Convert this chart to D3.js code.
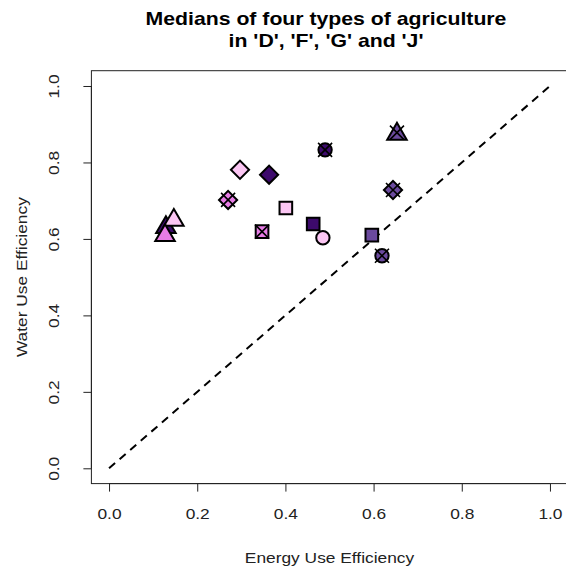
<!DOCTYPE html>
<html>
<head>
<meta charset="utf-8">
<script src="https://cdn.jsdelivr.net/npm/d3@7"></script>
<style>
  body { margin: 0; background: #fff; }
  svg { display: block; font-family: "Liberation Sans", Arial, sans-serif; }
</style>
</head>
<body>
<svg id="svg" width="566" height="572"></svg>
<script>
// medians: one point per agriculture type (shape) and region (colour)
const shapes = ['triangle', 'triangle', 'triangle', 'triangle',
                'diamond', 'diamond', 'diamond', 'diamond',
                'square', 'square', 'square', 'square',
                'circle', 'circle', 'circle'];
const groups = ['dark', 'light', 'pink', 'medium',
                'light', 'dark', 'pink', 'medium',
                'light', 'pink', 'dark', 'medium',
                'light', 'dark', 'medium'];
const energy = [0.129, 0.147, 0.127, 0.653,
                0.297, 0.363, 0.270, 0.644,
                0.401, 0.347, 0.463, 0.596,
                0.485, 0.490, 0.619];
const water = [0.634, 0.653, 0.613, 0.878,
               0.781, 0.768, 0.702, 0.728,
               0.681, 0.619, 0.639, 0.610,
               0.603, 0.833, 0.556];
const crossed = [false, false, false, true,
                 false, false, true, true,
                 false, true, false, false,
                 false, true, true];
const ticks = [0, 0.2, 0.4, 0.6, 0.8, 1.0];
const palette = {light: '#fbc6f3', pink: '#e87de6', medium: '#6b4a9e', dark: '#3d0a6c'};

const svg = d3.select('#svg');
const wide = 'scale(1.24,1)';   // the reference font is rendered wider than Arial

const x = d3.scaleLinear().domain([-0.04, 1.04]).range([91.4, 567.6]);
const y = d3.scaleLinear().domain([-0.04, 1.04]).range([483.6, 70.7]);

// plot box
svg.append('rect')
    .attr('x', x(-0.04))
    .attr('y', y(1.04))
    .attr('width', x(1.04) - x(-0.04))
    .attr('height', y(-0.04) - y(1.04))
    .style('fill', 'none')
    .style('stroke', '#222')
    .style('stroke-width', 1);

// axes
const xAxis = svg.append('g')
    .attr('transform', `translate(0,${y(-0.04)})`)
    .call(d3.axisBottom(x).tickValues(ticks).tickFormat(d3.format('.1f')).tickSize(8).tickPadding(17));
const yAxis = svg.append('g')
    .attr('transform', `translate(${x(-0.04)},0)`)
    .call(d3.axisLeft(y).tickValues(ticks).tickFormat(d3.format('.1f')).tickSize(8).tickPadding(14));
[xAxis, yAxis].forEach(a => {
    a.select('.domain').remove();
    a.selectAll('line').style('stroke', '#222');
    a.selectAll('text').style('font-size', '14px').style('fill', '#222')
        .style('font-family', '"Liberation Sans", Arial, sans-serif');
});
xAxis.append('line').attr('x1', x(0)).attr('x2', x(1)).style('stroke', '#222');
yAxis.append('line').attr('y1', y(0)).attr('y2', y(1)).style('stroke', '#222');
xAxis.selectAll('.tick text').attr('transform', wide);
yAxis.selectAll('.tick text')
    .attr('x', 0).attr('dy', null)
    .attr('transform', 'translate(-36,0) rotate(-90) ' + wide)
    .attr('text-anchor', 'middle')
    .attr('dominant-baseline', 'middle');

// diagonal
svg.append('line')
    .attr('x1', x(0)).attr('y1', y(0))
    .attr('x2', x(1)).attr('y2', y(1))
    .style('stroke', '#000')
    .style('stroke-width', 2)
    .style('stroke-dasharray', '8,6');

// symbols
const symType = {circle: d3.symbolCircle, square: d3.symbolSquare,
                 diamond: d3.symbolSquare, triangle: d3.symbolTriangle};
const symSize = {circle: 140, square: 160, diamond: 165, triangle: 165};

const pts = svg.append('g').selectAll('g')
    .data(d3.range(energy.length))
    .join('g')
    .attr('transform', i => `translate(${x(energy[i])},${y(water[i])})`);

pts.append('path')
    .attr('d', i => d3.symbol().type(symType[shapes[i]]).size(symSize[shapes[i]])())
    .attr('transform', i => shapes[i] === 'diamond' ? 'rotate(45)' : shapes[i] === 'triangle' ? 'translate(0,1.5)' : null)
    .style('fill', i => palette[groups[i]])
    .style('stroke', '#000')
    .style('stroke-width', 2);

pts.filter(i => crossed[i]).append('path')
    .attr('d', 'M-7,-7L7,7M-7,7L7,-7')
    .style('stroke', '#000')
    .style('stroke-width', 1.6);

// titles
svg.append('g').attr('transform', 'translate(326,25) scale(1.18,1)')
    .append('text')
    .attr('text-anchor', 'middle')
    .style('font-size', '18px').style('font-weight', 'bold')
    .text('Medians of four types of agriculture');
svg.append('g').attr('transform', 'translate(326,47) scale(1.18,1)')
    .append('text')
    .attr('text-anchor', 'middle')
    .style('font-size', '18px').style('font-weight', 'bold')
    .text("in 'D', 'F', 'G' and 'J'");

svg.append('g').attr('transform', `translate(${x(0.5)},563) ${wide}`)
    .append('text')
    .attr('text-anchor', 'middle')
    .style('font-size', '14px').style('fill', '#222')
    .text('Energy Use Efficiency');
svg.append('g').attr('transform', `translate(23,${y(0.5)}) rotate(-90) ${wide}`)
    .append('text')
    .attr('text-anchor', 'middle')
    .attr('dominant-baseline', 'middle')
    .style('font-size', '14px').style('fill', '#222')
    .text('Water Use Efficiency');
</script>
</body>
</html>
